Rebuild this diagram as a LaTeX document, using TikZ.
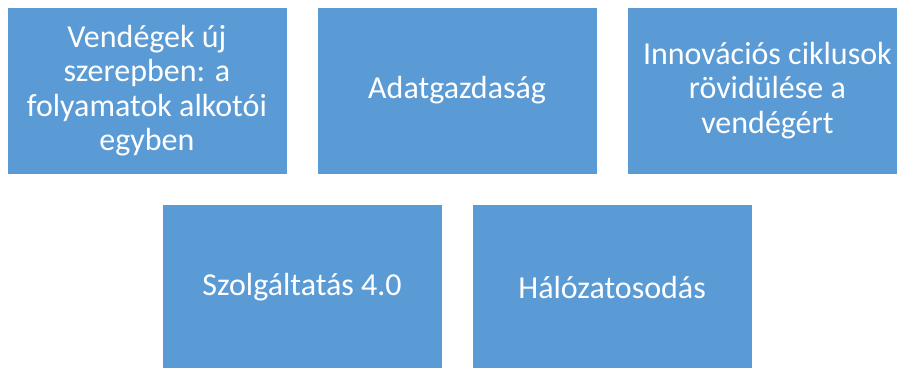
\documentclass[tikz,border=0pt]{standalone}
\usepackage{fontspec}
\setmainfont{Carlito}
\definecolor{boxblue}{HTML}{5B9BD5}
\begin{document}
\begin{tikzpicture}[x=1pt,y=-1pt,
  box/.style={fill=boxblue, draw=white, line width=0.8pt,
    minimum width=280pt, minimum height=167pt, inner sep=0pt,
    text=white, align=center, anchor=north west,
    font=\fontsize{32}{34.5}\selectfont}]
\useasboundingbox (0,0) rectangle (897,367);
\clip (0,0) rectangle (897,367);
% top row
\node[box] (guests) at (6.5,6.5) {Vendégek új\\szerepben: a\\folyamatok alkotói\\egyben};
\node[box] (data) at (316.7,6.5) {Adatgazdaság};
\node[box] (innov) at (627,6.5) {Innovációs ciklusok\\rövidülése a\\vendégért};
% bottom row
\node[box] (service) at (161.7,203.5) {Szolgáltatás 4.0};
\node[box] (network) at (471.7,203.5) {Hálózatosodás};
\end{tikzpicture}
\end{document}
